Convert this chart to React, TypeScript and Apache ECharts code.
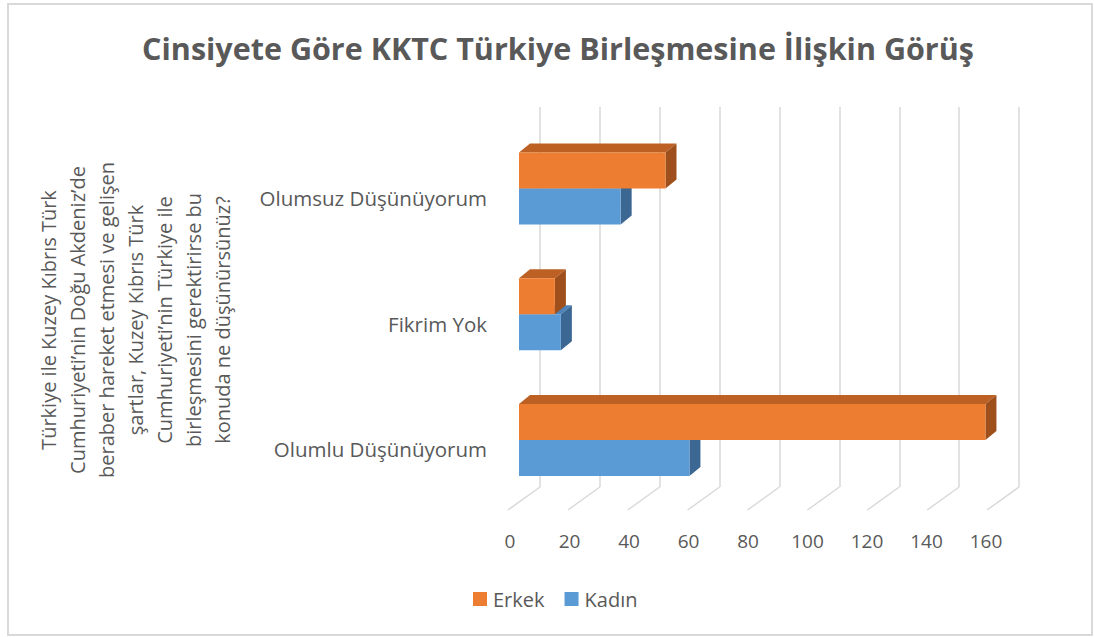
import React, { useEffect, useRef } from "react";
import * as echarts from "echarts";

const categories = ["Olumlu Düşünüyorum", "Fikrim Yok", "Olumsuz Düşünüyorum"];
const erkekValues = [156, 12, 49];
const kadinValues = [57, 14, 34];
const xTicks = [0, 20, 40, 60, 80, 100, 120, 140, 160];
const seriesNames = ["Erkek", "Kadın"];
const titleText = "Cinsiyete Göre KKTC Türkiye Birleşmesine İlişkin Görüş";
const yAxisTitleLines = [
  "Türkiye ile Kuzey Kıbrıs Türk",
  "Cumhuriyeti’nin Doğu Akdeniz’de",
  "beraber hareket etmesi ve gelişen",
  "şartlar, Kuzey Kıbrıs Türk",
  "Cumhuriyeti’nin Türkiye ile",
  "birleşmesini gerektirirse bu",
  "konuda ne düşünürsünüz?",
];

const FONT = "'Open Sans', sans-serif";
const TEXT_COLOR = "#595959";
const DEPTH_DX = 11;
const DEPTH_DY = 9;

const palette = {
  Erkek: { front: "#ED7D31", top: "#BC6024", side: "#9E4F1B" },
  Kadın: { front: "#5B9BD5", top: "#4C84BA", side: "#3B6792" },
};

function makeBarRender(name: string) {
  const c = (palette as any)[name];
  const isTopBar = name === "Erkek";
  return (params: any, api: any) => {
    const v = api.value(0);
    const cat = api.value(1);
    const p0 = api.coord([0, cat]);
    const p1 = api.coord([v, cat]);
    const band = api.size([0, 1])[1];
    const h = band * 0.286;
    const x0 = p0[0];
    const x1 = p1[0];
    const top = isTopBar ? p0[1] - h : p0[1];
    const bottom = top + h;
    return {
      type: "group",
      children: [
        {
          type: "polygon",
          shape: {
            points: [
              [x0, top],
              [x1, top],
              [x1 + DEPTH_DX, top - DEPTH_DY],
              [x0 + DEPTH_DX, top - DEPTH_DY],
            ],
          },
          style: { fill: c.top },
        },
        {
          type: "polygon",
          shape: {
            points: [
              [x1, top],
              [x1 + DEPTH_DX, top - DEPTH_DY],
              [x1 + DEPTH_DX, bottom - DEPTH_DY],
              [x1, bottom],
            ],
          },
          style: { fill: c.side },
        },
        {
          type: "rect",
          shape: { x: x0, y: top, width: x1 - x0, height: h },
          style: { fill: c.front },
        },
      ],
    };
  };
}

// back wall grid pixel geometry and front label plane
const BACK_LEFT = 540;
const BACK_RIGHT_EDGE = 1019;
const FRONT_LEFT = 508;
const FRONT_RIGHT_EDGE = 987;
const FLOOR_BACK_Y = 487;
const FLOOR_FRONT_Y = 510;

export default function App() {
  const ref = useRef<HTMLDivElement>(null);
  useEffect(() => {
    if (!ref.current) return;
    const chart = echarts.init(ref.current, null, { renderer: "svg" });
    const option: any = {
      animation: false,
      backgroundColor: "#ffffff",
      title: {
        text: titleText,
        left: 553,
        textAlign: "center",
        top: 27,
        textStyle: { fontFamily: FONT, fontWeight: "bold", fontSize: 30.5, color: TEXT_COLOR },
      },
      legend: {
        data: seriesNames,
        top: 584,
        left: 468,
        itemWidth: 14,
        itemHeight: 14,
        itemGap: 20,
        icon: "rect",
        textStyle: { fontFamily: FONT, fontSize: 20, color: TEXT_COLOR, padding: [0, 0, 0, 1] },
      },
      graphic: [
        {
          type: "rect",
          shape: { x: 8, y: 4, width: 1084, height: 631 },
          style: { fill: "none", stroke: "#d9d9d9", lineWidth: 2 },
          silent: true,
        },
        {
          type: "text",
          x: 135,
          y: 320,
          rotation: Math.PI / 2,
          style: {
            text: yAxisTitleLines.join("\n"),
            fontFamily: FONT,
            fontSize: 20,
            lineHeight: 29,
            fill: TEXT_COLOR,
            align: "center",
            verticalAlign: "middle",
          },
        },
      ],
      grid: [
        // bars
        { left: 519, right: 1094 - (519 + 160 * 2.99), top: 125.5, bottom: 637 - 503, containLabel: false },
        // back wall
        { left: BACK_LEFT, right: 1094 - BACK_RIGHT_EDGE, top: 107, bottom: 637 - FLOOR_BACK_Y, containLabel: false },
        // front labels
        { left: FRONT_LEFT + 2, right: 1094 - (FRONT_RIGHT_EDGE - 1), top: 400, bottom: 637 - FLOOR_FRONT_Y, containLabel: false },
        // category labels
        { left: 519, right: 100, top: 135.5, bottom: 637 - 512, containLabel: false },
      ],
      xAxis: [
        {
          gridIndex: 0,
          type: "value",
          min: 0,
          max: 160,
          interval: 20,
          show: false,
        },
        {
          gridIndex: 1,
          type: "value",
          min: 0,
          max: 160,
          interval: 20,
          axisLine: { show: false },
          axisTick: { show: false },
          axisLabel: { show: false },
          splitLine: { show: true, lineStyle: { color: "#d9d9d9", width: 1.5 } },
        },
        {
          gridIndex: 2,
          type: "value",
          min: 0,
          max: 160,
          interval: 20,
          axisLine: { show: false },
          axisTick: { show: false },
          splitLine: { show: false },
          axisLabel: {
            margin: 21,
            fontFamily: FONT,
            fontSize: 19,
            color: TEXT_COLOR,
            customValues: xTicks,
          },
        },
        { gridIndex: 3, type: "value", min: 0, max: 160, show: false },
      ],
      yAxis: [
        { gridIndex: 0, type: "category", data: categories, show: false },
        { gridIndex: 1, type: "value", min: 0, max: 1, show: false },
        { gridIndex: 2, type: "value", min: 0, max: 1, show: false },
        {
          gridIndex: 3,
          type: "category",
          data: categories,
          axisLine: { show: false },
          axisTick: { show: false },
          splitLine: { show: false },
          axisLabel: {
            margin: 32,
            fontFamily: FONT,
            fontSize: 20.5,
            color: TEXT_COLOR,
          },
        },
      ],
      series: [
        {
          name: "floor",
          type: "custom",
          xAxisIndex: 1,
          yAxisIndex: 1,
          silent: true,
          z: 1,
          data: xTicks.map((t) => [t]),
          renderItem: (params: any, api: any) => {
            const p = api.coord([api.value(0), 0]);
            const ratio = (FRONT_RIGHT_EDGE - FRONT_LEFT) / (BACK_RIGHT_EDGE - BACK_LEFT);
            const xf = FRONT_LEFT + (p[0] - BACK_LEFT) * ratio;
            return {
              type: "line",
              shape: { x1: p[0], y1: FLOOR_BACK_Y, x2: xf, y2: FLOOR_FRONT_Y },
              style: { stroke: "#d9d9d9", lineWidth: 1.5 },
            };
          },
        },
        {
          name: "Kadın",
          type: "custom",
          xAxisIndex: 0,
          yAxisIndex: 0,
          z: 2,
          itemStyle: { color: palette["Kadın"].front },
          encode: { x: 0, y: 1 },
          data: kadinValues.map((v, i) => [v, i]),
          renderItem: makeBarRender("Kadın"),
        },
        {
          name: "Erkek",
          type: "custom",
          xAxisIndex: 0,
          yAxisIndex: 0,
          z: 3,
          itemStyle: { color: palette["Erkek"].front },
          encode: { x: 0, y: 1 },
          data: erkekValues.map((v, i) => [v, i]),
          renderItem: makeBarRender("Erkek"),
        },
      ],
    };
    chart.setOption(option);
    return () => chart.dispose();
  }, []);
  return (
    <div
      ref={ref}
      style={{ position: "fixed", left: 0, top: 0, width: 1094, height: 637 }}
    />
  );
}
